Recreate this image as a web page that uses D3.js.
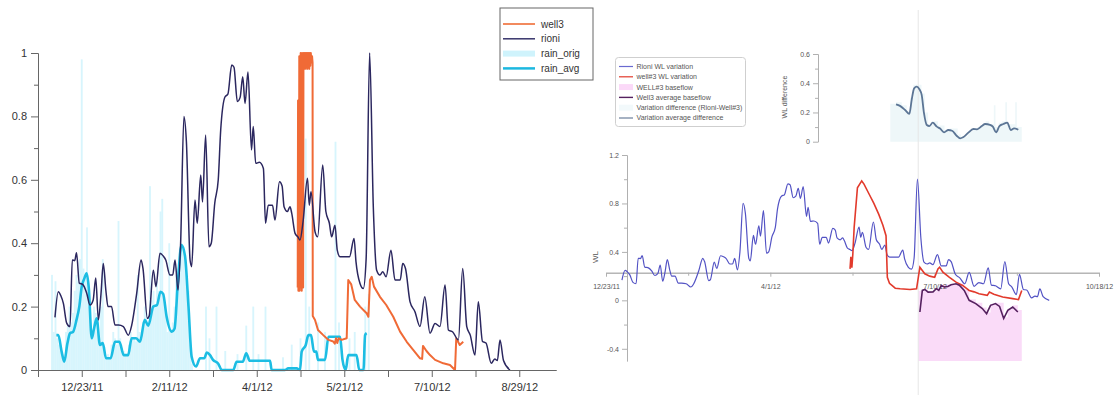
<!DOCTYPE html>
<html>
<head>
<meta charset="utf-8">
<script src="https://cdn.jsdelivr.net/npm/d3@7"></script>
<style>
  body { margin: 0; background: #fff; }
  svg { font-family: "Liberation Sans", Arial, sans-serif; }
</style>
</head>
<body>
<svg id="chart" width="1116" height="407"></svg>
<script>
// ---- data (x = day index, y = normalised water level) ----
var rioni = [[9.7,0.166],[11.6,0.247],[13,0.235],[14.5,0.21],[16.4,0.148],[18.3,0.137],[19.6,0.347],[21,0.345],[22,0.37],[23.6,0.274],[25.5,0.27],[27.8,0.243],[29.7,0.205],[31.5,0.22],[33,0.29],[34.5,0.158],[36,0.24],[37.3,0.336],[38.8,0.25],[40,0.2],[42,0.2],[44,0.142],[46,0.142],[48.8,0.137],[51.6,0.11],[53.5,0.14],[56.4,0.242],[58.9,0.347],[60,0.32],[62.5,0.163],[63.5,0.17],[65.9,0.315],[67.4,0.263],[69.7,0.368],[71.5,0.36],[73,0.347],[75.4,0.3],[77,0.3],[78.3,0.347],[80,0.252],[81.5,0.4],[83.4,0.8],[84.8,0.72],[86.9,0.347],[87.8,0.326],[89.7,0.536],[91,0.463],[93,0.615],[94,0.53],[95.8,0.741],[97.7,0.389],[99,0.4],[101,0.526],[103,0.6],[104.4,0.757],[106.9,0.862],[108.5,0.87],[110.7,0.962],[112,0.955],[113.9,0.847],[115.5,0.86],[117,0.925],[118.3,0.841],[120,0.94],[122,0.694],[123,0.768],[124.4,0.652],[126.5,0.655],[128.8,0.636],[130,0.463],[131.6,0.52],[134,0.52],[135.4,0.473],[138,0.594],[139.5,0.58],[140.6,0.515],[142.5,0.5],[144,0.515],[145,0.494],[146.9,0.431],[148.5,0.42],[149.7,0.41],[151.5,0.47],[154,0.605],[155,0.52],[156,0.562],[158.3,0.436],[159.8,0.42],[162.7,0.647],[164.5,0.5],[166.5,0.463],[167.8,0.42],[169.7,0.457],[171,0.378],[172.6,0.357],[178,0.357],[180.6,0.415],[181.7,0.342],[184,0.273],[185.9,0.257],[187.5,0.35],[189.5,1.0],[191.6,0.515],[193.5,0.315],[195.4,0.3],[197,0.31],[198.9,0.294],[201.7,0.378],[204,0.284],[207,0.284],[208.4,0.336],[210,0.32],[212.6,0.215],[215.4,0.184],[218.3,0.137],[221,0.231],[224,0.116],[226.9,0.147],[229.7,0.137],[232.6,0.268],[234.5,0.126],[237,0.12],[240.2,0.095],[242.7,0.32],[245,0.137],[247,0.11],[249.7,0.047],[251.6,0.215],[254,0.09],[256,0.085],[259,0.021],[261,0.035],[262.5,0.03],[264,0.095],[266,0.03],[269.7,0.0]];

var well3 = [[148.4,0.26],[148.6,0.85],[148.8,0.25],[149.1,0.26],[149.3,0.99],[149.5,0.25],[149.7,0.98],[149.9,0.27],[150.1,1.0],[150.3,0.26],[150.5,0.99],[150.7,0.25],[150.9,1.0],[151.1,0.27],[151.3,0.98],[151.5,0.26],[151.7,1.0],[152.0,0.96],[152.3,1.0],[152.6,0.95],[152.9,1.0],[153.2,0.96],[153.5,1.0],[153.8,0.95],[154.1,1.0],[154.4,0.96],[154.7,1.0],[155.0,0.95],[155.3,1.0],[155.6,0.96],[155.9,1.0],[156.2,0.97],[156.6,0.99],[156.9,0.97],[157,0.17],[158.3,0.158],[160,0.126],[163,0.11],[166,0.095],[168.7,0.09],[169.6,0.083],[170.3,0.1],[171,0.085],[171.8,0.1],[173.5,0.095],[176.4,0.1],[177.3,0.284],[179,0.27],[181,0.221],[184,0.2],[187.8,0.179],[188.8,0.168],[189.7,0.284],[190.7,0.294],[192,0.263],[195.4,0.231],[199,0.205],[203,0.168],[206.9,0.121],[210.7,0.089],[214.5,0.063],[218.3,0.037],[219.5,0.035],[220,0.076],[222,0.06],[224,0.047],[226.9,0.032],[231.6,0.021],[235.4,0.016],[238.3,0.0],[239,0.1],[241,0.079],[243,0.089]];

var rainAvg = [[10.5,0.11],[11.6,0.11],[13.5,0.058],[15,0.026],[16.8,0.084],[18.3,0.116],[20,0.12],[22,0.158],[23.6,0.2],[25,0.263],[26.5,0.289],[27.8,0.305],[29,0.26],[30.7,0.1],[32,0.13],[33.5,0.163],[35.4,0.079],[37,0.085],[38.9,0.037],[41.5,0.037],[44,0.089],[46.5,0.089],[49,0.047],[51.5,0.047],[53.5,0.1],[56,0.1],[58.3,0.089],[61,0.158],[63,0.14],[65.9,0.2],[68,0.205],[70,0.247],[71.5,0.24],[73.5,0.168],[76.4,0.121],[78,0.13],[80,0.284],[82,0.394],[84,0.36],[86,0.2],[87.8,0.042],[90.3,0.011],[92.6,0.037],[95,0.037],[96.5,0.055],[98.3,0.047],[100,0.032],[103,0.02],[105,0],[111.6,0],[113.5,0.026],[117,0.026],[119,0.053],[121,0.029],[132.6,0.029],[133.5,0],[141,0],[143,0.005],[147.8,0.005],[149.7,0],[150.7,0.058],[153,0.079],[154.5,0.11],[156,0.11],[157.7,0.058],[159,0.058],[160,0.032],[164,0.032],[166,0.105],[172.6,0.105],[174,0.032],[175.8,0],[177.3,0.047],[182,0.047],[183.6,0],[186,0],[186.9,0.11],[187.8,0.116]];

var rainOrig = [[8,0.3],[9,0.12],[10,0.28],[11,0.1],[12,0.08],[13,0.06],[14,0.05],[15,0.04],[16,0.12],[17,0.14],[18,0.2],[19,0.15],[20,0.18],[21,0.25],[22,0.3],[23,0.28],[24,0.35],[25,0.98],[26,0.32],[27,0.3],[28,0.45],[29,0.2],[30,0.15],[31,0.1],[32,0.2],[33,0.18],[34,0.12],[35,0.1],[36,0.2],[37,0.35],[38,0.06],[39,0.04],[40,0.05],[41,0.04],[42,0.08],[43,0.12],[44,0.1],[45,0.08],[46,0.47],[47,0.1],[48,0.07],[49,0.06],[50,0.05],[51,0.05],[52,0.08],[53,0.12],[54,0.1],[55,0.1],[56,0.09],[57,0.3],[58,0.12],[59,0.1],[60,0.15],[61,0.2],[62,0.18],[63,0.15],[64,0.58],[65,0.22],[66,0.25],[67,0.2],[68,0.28],[69,0.25],[70,0.5],[71,0.54],[72,0.22],[73,0.18],[74,0.12],[75,0.4],[76,0.12],[77,0.15],[78,0.2],[79,0.3],[80,0.32],[81,0.38],[82,0.4],[83,0.38],[84,0.35],[85,0.3],[86,0.25],[87,0.08],[88,0.02],[96,0.2],[98,0.1],[102,0.2],[107,0.06],[114,0.05],[119,0.14],[123,0.2],[126,0.05],[130,0.2],[140,0.04],[145,0.08],[150,0.1],[153,0.73],[155,0.2],[160,0.15],[164,0.12],[170,0.72],[172,0.15],[178,0.1],[181,0.12],[187,0.2],[189,0.24]];

// right panel series
var well3Var = [[148.5,0.26],[149,0.36],[149.6,0.27],[150.2,0.38],[151,0.6],[153,0.93],[155.6,0.986],[157,0.96],[160,0.88],[163,0.8],[166,0.71],[168.5,0.62],[170.4,0.534],[171.2,0.19],[172.5,0.14],[174,0.123],[176,0.1],[179,0.096],[185,0.09],[189,0.096],[191,0.274],[194,0.219],[197,0.2],[200,0.19],[202,0.26],[203,0.274],[205,0.233],[209,0.19],[213,0.15],[217,0.123],[221,0.082],[224,0.07],[227,0.055],[232,0.041],[233.3,0.068],[236,0.05],[241.4,0.027],[247.5,0.014],[251,0.006],[253,0.082]];

var avgBaseflow = [[191,-0.096],[192.5,0.082],[194,0.09],[196,0.068],[199,0.07],[201,0.096],[202.5,0.082],[204,0.123],[206,0.11],[208,0.115],[210,0.129],[213,0.137],[215,0.125],[218,0.082],[221,0],[225,-0.027],[229,-0.068],[231.6,-0.11],[234,-0.041],[237,-0.027],[239.5,-0.05],[242,-0.15],[244.5,-0.082],[247.5,-0.055],[250.6,-0.096]];

var baseflow = [[190,0.08],[192.5,0.09],[196,0.075],[201,0.1],[204,0.13],[213,0.14],[218,0.09],[221,0.01],[225,-0.02],[229,-0.06],[231.6,-0.1],[234,-0.03],[237,-0.02],[242,-0.14],[244.5,-0.07],[247.5,-0.04],[250.6,-0.08],[253,0.07]];

var varDiff = [[173,0.26],[176.5,0.27],[180,0.25],[183,0.21],[185,0.3],[187,0.39],[190,0.39],[192,0.33],[194,0.2],[196,0.12],[199,0.14],[202,0.11],[206,0.08],[209,0.09],[214,0.05],[216,0.035],[220,0.07],[223,0.09],[226,0.1],[229,0.12],[231,0.14],[233,0.12],[236,0.25],[237,0.1],[239,0.13],[241,0.14],[243,0.27],[244,0.12],[247,0.12],[249,0.27],[250,0.1],[253,0.1]];

var varAvgDiff = [[176.5,0.256],[178.9,0.245],[182,0.217],[184.6,0.19],[186,0.285],[187.5,0.365],[189.1,0.377],[190.7,0.359],[192.1,0.32],[193.5,0.195],[195.2,0.114],[196.8,0.107],[198.8,0.13],[201.3,0.103],[203.3,0.09],[205.7,0.064],[208.3,0.08],[210.6,0.075],[213.5,0.039],[215.5,0.023],[217.3,0.03],[220.5,0.062],[223.5,0.087],[225.8,0.085],[228.7,0.107],[230.7,0.121],[233.7,0.115],[235.4,0.103],[237.4,0.064],[239.4,0.107],[241.8,0.121],[244.2,0.13],[246.3,0.08],[248.3,0.091],[250.9,0.082]];

var markerDays = [190];

// ticks
var leftTickDays = [25, 75, 125, 175, 225, 275];
var leftTickLabels = ["12/23/11", "2/11/12", "4/1/12", "5/21/12", "7/10/12", "8/29/12"];
var leftMinorDays = [0, 50, 100, 150, 200, 250];
var leftYTicks = [0, 0.2, 0.4, 0.6, 0.8, 1];
var leftYMinor = [0.1, 0.3, 0.5, 0.7, 0.9];

var rightTickDays = [0, 100, 200, 300];
var rightTickLabels = ["12/23/11", "4/1/12", "7/10/12", "10/18/12"];
var rightMinorDays = [50, 150, 250];
var rightYTicks = [-0.4, 0, 0.4, 0.8, 1.2];
var rightYMinor = [-0.2, 0.2, 0.6, 1.0];
var insetYTicks = [0, 0.2, 0.4, 0.6];
var insetYMinor = [0.1, 0.3, 0.5];
var rightAxisLevel = 0.228;

var leftLegend = ["well3", "rioni", "rain_orig", "rain_avg"];
var rightLegend = ["Rioni WL variation", "well#3 WL variation", "WELL#3 baseflow",
                   "Well3 average baseflow", "Variation difference (Rioni-Well#3)", "Variation average difference"];

var svg = d3.select("#chart");

// ================= left panel =================
var xL = d3.scaleLinear().domain([0, 296]).range([38, 38 + 296 * 1.75]);
var yL = d3.scaleLinear().domain([0, 1]).range([370, 53]);
var left = svg.append("g");

left.selectAll("rect.rain")
  .data(rainOrig)
  .enter()
  .append("rect")
  .attr("class", "rain")
  .attr("x", d => xL(d[0]) - 0.9)
  .attr("width", 1.8)
  .attr("y", d => yL(d[1]))
  .attr("height", d => yL(0) - yL(d[1]))
  .attr("fill", "#cdf2fc")
  .attr("opacity", 0.8);

var lineL = d3.line().x(d => xL(d[0])).y(d => yL(d[1]));

left.append("path").datum(rainAvg)
  .attr("d", lineL.curve(d3.curveMonotoneX))
  .attr("fill", "none").attr("stroke", "#1cbde3").attr("stroke-width", 2.6);

left.append("path").datum(well3)
  .attr("d", d3.line().x(d => xL(d[0])).y(d => yL(d[1])))
  .attr("fill", "none").attr("stroke", "#f06a36").attr("stroke-width", 2)
  .attr("stroke-linejoin", "round");

left.append("path").datum(rioni)
  .attr("d", d3.line().x(d => xL(d[0])).y(d => yL(d[1])).curve(d3.curveMonotoneX))
  .attr("fill", "none").attr("stroke", "#2b275f").attr("stroke-width", 1.5);

// axes
left.append("g").attr("transform", "translate(0," + yL(0) + ")")
  .call(d3.axisBottom(xL).tickValues(leftTickDays)
    .tickFormat((d, i) => leftTickLabels[i]).tickSize(7).tickPadding(6).tickSizeOuter(0));
left.append("g").attr("transform", "translate(0," + yL(0) + ")")
  .call(d3.axisBottom(xL).tickValues(leftMinorDays).tickFormat("").tickSize(7).tickSizeOuter(0));
left.append("g").attr("transform", "translate(" + xL(0) + ",0)")
  .call(d3.axisLeft(yL).tickValues(leftYTicks).tickFormat(d => String(d))
    .tickSize(7).tickPadding(4).tickSizeOuter(0));
left.append("g").attr("transform", "translate(" + xL(0) + ",0)")
  .call(d3.axisLeft(yL).tickValues(leftYMinor).tickFormat("").tickSize(4).tickSizeOuter(0));
left.selectAll(".domain, .tick line").attr("stroke", "#666");
left.selectAll(".tick text").attr("font-size", 11).attr("fill", "#333")
  .attr("font-family", "Liberation Sans, Arial, sans-serif");

// left legend
var lg = svg.append("g");
lg.append("rect").attr("x", 500).attr("y", 8).attr("width", 93).attr("height", 72)
  .attr("fill", "#fff").attr("stroke", "#666");
var lgStyles = [
  { c: "#f28a5e", w: 2 }, { c: "#37346b", w: 1.5 }, { c: "#cff3fc", w: 6 }, { c: "#1cb8e0", w: 2.5 }
];
lg.selectAll("g.item").data(leftLegend).enter().append("g")
  .attr("class", "item")
  .attr("transform", (d, i) => "translate(0," + (24 + i * 14.8) + ")")
  .each(function(d, i) {
    var g = d3.select(this);
    g.append("line").attr("x1", 503).attr("x2", 535)
      .attr("stroke", lgStyles[i].c).attr("stroke-width", lgStyles[i].w);
    g.append("text").attr("x", 541).attr("dy", "0.35em")
      .attr("font-size", 10).attr("fill", "#333").text(d);
  });

// ================= right panel =================
var xR = d3.scaleLinear().domain([0, 300]).range([606, 1099]);
var yR = d3.scaleLinear().domain([-0.5, 1.2]).range([360.9, 155]);
var yI = d3.scaleLinear().domain([0, 0.6]).range([141.7, 54]);
var right = svg.append("g");

// baseflow (pink) area
right.append("path").datum(baseflow)
  .attr("d", d3.area().x(d => xR(d[0])).y0(yR(-0.5)).y1(d => yR(d[1])).curve(d3.curveStepAfter))
  .attr("fill", "#f9d7f7").attr("opacity", 0.9);

// variation difference fill (inset)
right.append("path").datum(varDiff)
  .attr("d", d3.area().x(d => xR(d[0])).y0(yI(0)).y1(d => yI(d[1])).curve(d3.curveStepAfter))
  .attr("fill", "#eef7f9");

// marker line
right.selectAll("line.marker").data(markerDays).enter().append("line")
  .attr("class", "marker")
  .attr("x1", d => xR(d)).attr("x2", d => xR(d))
  .attr("y1", 10).attr("y2", 395)
  .attr("stroke", "#e6e6e6").attr("stroke-width", 1);

// axes
right.append("g").attr("transform", "translate(0," + yR(rightAxisLevel) + ")")
  .call(d3.axisBottom(xR).tickValues(rightTickDays)
    .tickFormat((d, i) => rightTickLabels[i]).tickSize(4).tickPadding(7).tickSizeOuter(0));
right.append("g").attr("transform", "translate(0," + yR(rightAxisLevel) + ")")
  .call(d3.axisBottom(xR).tickValues(rightMinorDays).tickFormat("").tickSize(3).tickSizeOuter(0));
right.append("g").attr("transform", "translate(627,0)")
  .call(d3.axisLeft(yR).tickValues(rightYTicks).tickFormat(d => String(d))
    .tickSize(5).tickPadding(3).tickSizeOuter(0));
right.append("g").attr("transform", "translate(627,0)")
  .call(d3.axisLeft(yR).tickValues(rightYMinor).tickFormat("").tickSize(3).tickSizeOuter(0));
right.append("g").attr("transform", "translate(818,0)")
  .call(d3.axisLeft(yI).tickValues(insetYTicks).tickFormat(d => String(d))
    .tickSize(5).tickPadding(3).tickSizeOuter(0));
right.append("g").attr("transform", "translate(818,0)")
  .call(d3.axisLeft(yI).tickValues(insetYMinor).tickFormat("").tickSize(3).tickSizeOuter(0));
right.selectAll(".domain, .tick line").attr("stroke", "#b0b0b0");
right.selectAll(".tick text").attr("font-size", 7).attr("fill", "#555")
  .attr("font-family", "Liberation Sans, Arial, sans-serif");

right.append("text").attr("transform", "translate(598,257) rotate(-90)")
  .attr("text-anchor", "middle").attr("font-size", 8).attr("fill", "#555").text("WL");
right.append("text").attr("transform", "translate(787,97) rotate(-90)")
  .attr("text-anchor", "middle").attr("font-size", 7).attr("fill", "#555").text("WL difference");

var lineR = d3.line().x(d => xR(d[0])).y(d => yR(d[1]));

right.append("path").datum(rioni)
  .attr("d", lineR.curve(d3.curveMonotoneX))
  .attr("fill", "none").attr("stroke", "#5252c4").attr("stroke-width", 1.2);

right.append("path").datum(well3Var)
  .attr("d", d3.line().x(d => xR(d[0])).y(d => yR(d[1])))
  .attr("fill", "none").attr("stroke", "#e23a2c").attr("stroke-width", 1.6);

right.append("path").datum(avgBaseflow)
  .attr("d", d3.line().x(d => xR(d[0])).y(d => yR(d[1])))
  .attr("fill", "none").attr("stroke", "#55215f").attr("stroke-width", 1.6);

right.append("path").datum(varAvgDiff)
  .attr("d", d3.line().x(d => xR(d[0])).y(d => yI(d[1])).curve(d3.curveMonotoneX))
  .attr("fill", "none").attr("stroke", "#5c7595").attr("stroke-width", 1.8);

// right legend
var rg = svg.append("g");
rg.append("rect").attr("x", 615.5).attr("y", 57.5).attr("width", 130).attr("height", 69)
  .attr("rx", 3).attr("fill", "#fff").attr("stroke", "#cfcfcf");
var rgStyles = [
  { c: "#6a6ad0", w: 1.2 }, { c: "#e23a2c", w: 1.2 }, { c: "#fbd9f8", w: 6 },
  { c: "#55215f", w: 1.4 }, { c: "#f2f9fb", w: 6 }, { c: "#6a7f9a", w: 1.2 }
];
rg.selectAll("g.item").data(rightLegend).enter().append("g")
  .attr("class", "item")
  .attr("transform", (d, i) => "translate(0," + (66.5 + i * 10.3) + ")")
  .each(function(d, i) {
    var g = d3.select(this);
    g.append("line").attr("x1", 619).attr("x2", 633)
      .attr("stroke", rgStyles[i].c).attr("stroke-width", rgStyles[i].w);
    g.append("text").attr("x", 636.5).attr("dy", "0.35em")
      .attr("font-size", 7).attr("fill", "#555").text(d);
  });
</script>
</body>
</html>
